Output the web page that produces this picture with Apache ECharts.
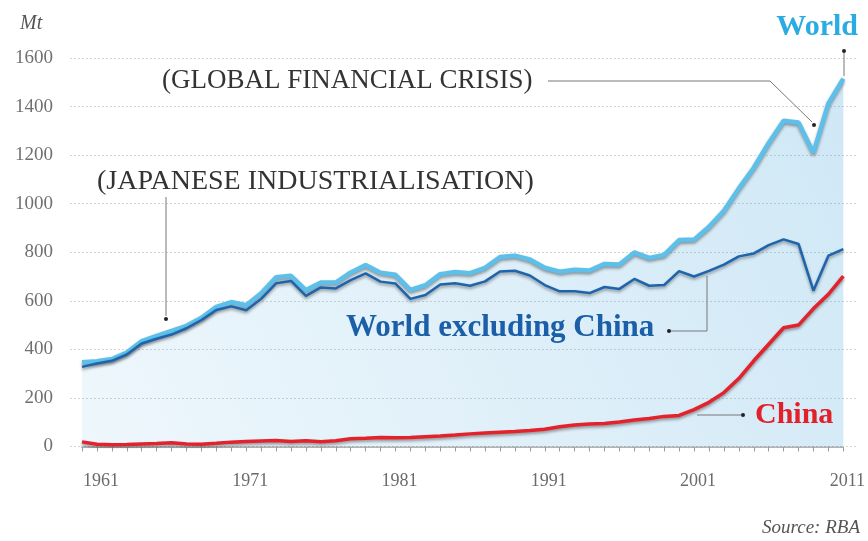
<!DOCTYPE html>
<html>
<head>
<meta charset="utf-8">
<script src="https://cdn.jsdelivr.net/npm/echarts@6/dist/echarts.min.js"></script>
<style>
html,body{margin:0;padding:0;background:#fff;}
#chart{width:868px;height:541px;}
</style>
</head>
<body>
<div id="chart"></div>
<script>
var years = ['1960','1961','1962','1963','1964','1965','1966','1967','1968','1969',
  '1970','1971','1972','1973','1974','1975','1976','1977','1978','1979',
  '1980','1981','1982','1983','1984','1985','1986','1987','1988','1989',
  '1990','1991','1992','1993','1994','1995','1996','1997','1998','1999',
  '2000','2001','2002','2003','2004','2005','2006','2007','2008','2009',
  '2010','2011'];

var world = [347,351,360,387,434,456,476,497,530,575,
  595,582,631,697,703,644,675,675,717,747,
  716,707,645,664,710,719,714,736,780,786,
  770,736,720,728,725,752,750,799,777,789,
  850,852,905,971,1063,1148,1250,1342,1334,1210,
  1413,1515];

var worldExChina = [328,342,353,379,424,444,461,487,521,562,
  577,561,608,672,682,620,655,651,685,713,
  679,671,608,624,667,672,662,680,721,724,
  704,665,639,639,632,657,649,690,662,665,
  722,700,723,749,783,795,829,853,834,642,
  786,813];

var china = [19,9,7,8,10,12,15,10,9,13,
  18,21,23,25,21,24,20,24,32,34,
  37,36,37,40,43,47,52,56,59,62,
  66,71,81,89,93,95,101,109,115,124,
  128,152,182,222,280,353,421,489,500,568,
  627,702];

var yTicks = [0,200,400,600,800,1000,1200,1400,1600];
var labelYears = ['1961','1971','1981','1991','2001','2011'];

var SERIF = '"Liberation Serif","DejaVu Serif",serif';
var chart = echarts.init(document.getElementById('chart'));

var lineShadow = {shadowColor:'rgba(40,40,40,0.45)', shadowBlur:3, shadowOffsetY:2};

function txt(text, x, y, font, fill, align){
  return {type:'text', x:x, y:y, z:20,
    style:{text:text, font:font, fill:fill, align:align||'left', verticalAlign:'middle'}};
}
function dot(x,y){
  return {type:'circle', z:20, shape:{cx:x, cy:y, r:2}, style:{fill:'#222'}};
}
function leader(pts){
  return {type:'polyline', z:20, shape:{points:pts}, style:{stroke:'#777', lineWidth:1, fill:null}};
}

var option = {
  backgroundColor:'#fff',
  animation:false,
  grid:[
    {left:82, right:24, top:58, bottom:94.5},
    {left:70, right:11, top:58, bottom:94.5}
  ],
  xAxis:[
    {type:'category', gridIndex:0, data:years, boundaryGap:false,
     axisLine:{show:true, lineStyle:{color:'#9a9a9a', width:1.5}},
     axisTick:{show:true, interval:0, length:5, lineStyle:{color:'#9a9a9a'}},
     axisLabel:{interval:function(i,v){return labelYears.indexOf(v)>=0;},
       margin:26, fontSize:18, color:'#6b6b6b', fontFamily:SERIF, padding:[0,0,0,8]},
     splitLine:{show:false}},
    {type:'value', gridIndex:1, min:0, max:1, show:false}
  ],
  yAxis:[
    {type:'value', gridIndex:0, min:0, max:1600, interval:200, show:false},
    {type:'value', gridIndex:1, min:yTicks[0], max:yTicks[yTicks.length-1], interval:200, z:1,
     axisLine:{show:false}, axisTick:{show:false},
     axisLabel:{margin:17, fontSize:19, color:'#707070', fontFamily:SERIF,
       formatter:function(v){return String(v);}},
     splitLine:{show:true, lineStyle:{color:'#d4d4d4', width:1, type:[2,2]}}}
  ],
  series:[
    {name:'World', type:'line', xAxisIndex:0, yAxisIndex:0, data:world, z:3,
     symbol:'none', smooth:false,
     lineStyle:Object.assign({color:'#5cc0ea', width:4.5}, lineShadow),
     areaStyle:{origin:'start', shadowBlur:0, shadowOffsetY:0, shadowColor:'transparent',
       color:new echarts.graphic.LinearGradient(0,1,1,0,[
         {offset:0, color:'rgba(70,165,220,0.13)'},
         {offset:1, color:'rgba(70,165,220,0.37)'}])}},
    {name:'World excluding China', type:'line', xAxisIndex:0, yAxisIndex:0, data:worldExChina, z:4,
     symbol:'none',
     lineStyle:Object.assign({color:'#1e64ad', width:2.5}, lineShadow)},
    {name:'China', type:'line', xAxisIndex:0, yAxisIndex:0, data:china, z:5,
     symbol:'none',
     lineStyle:Object.assign({color:'#e3222b', width:3.5}, lineShadow)}
  ],
  graphic:[
    txt('Mt', 20, 24, 'italic 20px '+SERIF, '#555'),
    txt('(GLOBAL FINANCIAL CRISIS)', 162, 81, '27px '+SERIF, '#333'),
    txt('(JAPANESE INDUSTRIALISATION)', 97, 182, '28px '+SERIF, '#333'),
    txt('World', 858, 27, 'bold 30px '+SERIF, '#2aace2', 'right'),
    txt('World excluding China', 346, 328, 'bold 31px '+SERIF, '#1b5fa8'),
    txt('China', 755, 415, 'bold 30px '+SERIF, '#e2202a'),
    txt('Source: RBA', 860, 528, 'italic 19px '+SERIF, '#555', 'right'),
    leader([[548,81],[770,81],[812,122]]), dot(814,125),
    leader([[844,53],[844,76]]), dot(844,51),
    leader([[166,197],[166,316]]), dot(166,319),
    leader([[671,331],[707,331],[707,276]]), dot(669,331),
    leader([[697,415],[741,415]]), dot(743,415)
  ]
};
chart.setOption(option);
</script>
</body>
</html>
